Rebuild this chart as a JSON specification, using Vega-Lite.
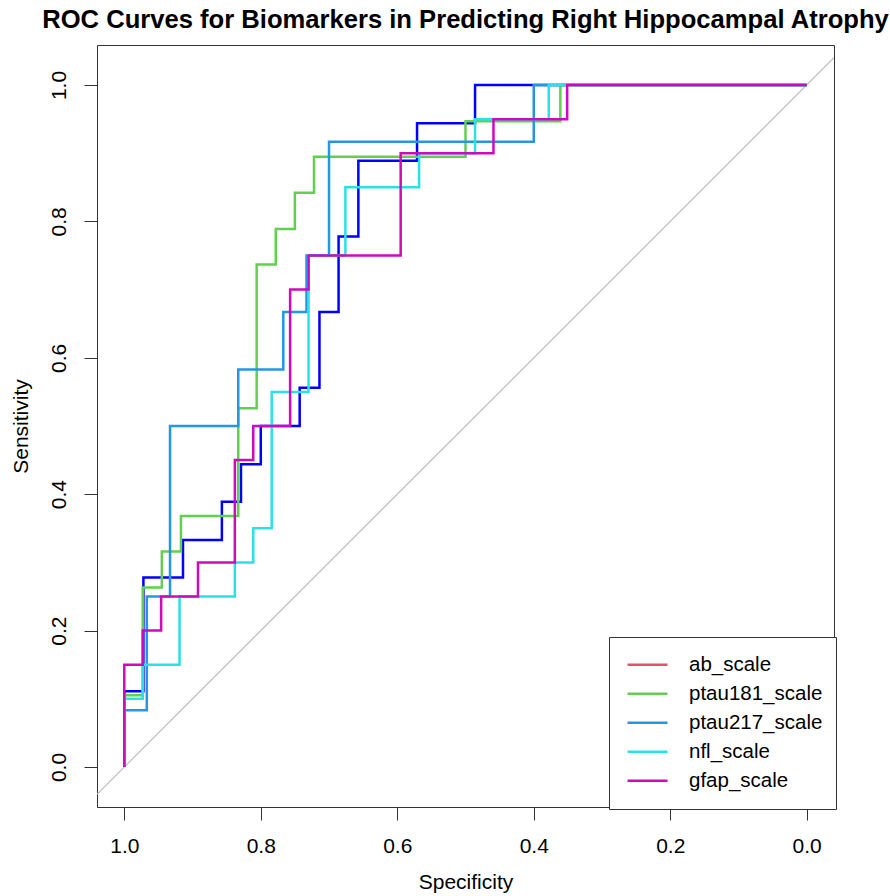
{
  "$schema": "https://vega.github.io/schema/vega-lite/v6.json",
  "autosize": {"type": "none"},
  "width": 737,
  "height": 762,
  "padding": {"left": 97, "top": 45, "right": 56, "bottom": 89},
  "title": {"text": "ROC Curves for Biomarkers in Predicting Right Hippocampal Atrophy", "fontSize": 25.6, "font": "Liberation Sans", "fontWeight": "bold", "anchor": "middle", "offset": 11, "color": "#000"},
  "datasets": {
    "diag": [{"sp": 1.04, "se": -0.04}, {"sp": -0.04, "se": 1.04}],
    "curves": [
      {"k": "ab_scale", "i": 0, "sp": 1, "se": 0},
      {"k": "ab_scale", "i": 1, "sp": 1, "se": 0.111},
      {"k": "ab_scale", "i": 2, "sp": 0.972, "se": 0.111},
      {"k": "ab_scale", "i": 3, "sp": 0.972, "se": 0.278},
      {"k": "ab_scale", "i": 4, "sp": 0.914, "se": 0.278},
      {"k": "ab_scale", "i": 5, "sp": 0.914, "se": 0.333},
      {"k": "ab_scale", "i": 6, "sp": 0.857, "se": 0.333},
      {"k": "ab_scale", "i": 7, "sp": 0.857, "se": 0.389},
      {"k": "ab_scale", "i": 8, "sp": 0.829, "se": 0.389},
      {"k": "ab_scale", "i": 9, "sp": 0.829, "se": 0.444},
      {"k": "ab_scale", "i": 10, "sp": 0.8, "se": 0.444},
      {"k": "ab_scale", "i": 11, "sp": 0.8, "se": 0.5},
      {"k": "ab_scale", "i": 12, "sp": 0.743, "se": 0.5},
      {"k": "ab_scale", "i": 13, "sp": 0.743, "se": 0.556},
      {"k": "ab_scale", "i": 14, "sp": 0.714, "se": 0.556},
      {"k": "ab_scale", "i": 15, "sp": 0.714, "se": 0.667},
      {"k": "ab_scale", "i": 16, "sp": 0.686, "se": 0.667},
      {"k": "ab_scale", "i": 17, "sp": 0.686, "se": 0.778},
      {"k": "ab_scale", "i": 18, "sp": 0.657, "se": 0.778},
      {"k": "ab_scale", "i": 19, "sp": 0.657, "se": 0.889},
      {"k": "ab_scale", "i": 20, "sp": 0.571, "se": 0.889},
      {"k": "ab_scale", "i": 21, "sp": 0.571, "se": 0.944},
      {"k": "ab_scale", "i": 22, "sp": 0.486, "se": 0.944},
      {"k": "ab_scale", "i": 23, "sp": 0.486, "se": 1},
      {"k": "ab_scale", "i": 24, "sp": 0, "se": 1},

      {"k": "ptau181_scale", "i": 0, "sp": 1, "se": 0},
      {"k": "ptau181_scale", "i": 1, "sp": 1, "se": 0.105},
      {"k": "ptau181_scale", "i": 2, "sp": 0.973, "se": 0.105},
      {"k": "ptau181_scale", "i": 3, "sp": 0.973, "se": 0.263},
      {"k": "ptau181_scale", "i": 4, "sp": 0.945, "se": 0.263},
      {"k": "ptau181_scale", "i": 5, "sp": 0.945, "se": 0.316},
      {"k": "ptau181_scale", "i": 6, "sp": 0.917, "se": 0.316},
      {"k": "ptau181_scale", "i": 7, "sp": 0.917, "se": 0.368},
      {"k": "ptau181_scale", "i": 8, "sp": 0.833, "se": 0.368},
      {"k": "ptau181_scale", "i": 9, "sp": 0.833, "se": 0.526},
      {"k": "ptau181_scale", "i": 10, "sp": 0.806, "se": 0.526},
      {"k": "ptau181_scale", "i": 11, "sp": 0.806, "se": 0.737},
      {"k": "ptau181_scale", "i": 12, "sp": 0.778, "se": 0.737},
      {"k": "ptau181_scale", "i": 13, "sp": 0.778, "se": 0.789},
      {"k": "ptau181_scale", "i": 14, "sp": 0.75, "se": 0.789},
      {"k": "ptau181_scale", "i": 15, "sp": 0.75, "se": 0.842},
      {"k": "ptau181_scale", "i": 16, "sp": 0.722, "se": 0.842},
      {"k": "ptau181_scale", "i": 17, "sp": 0.722, "se": 0.895},
      {"k": "ptau181_scale", "i": 18, "sp": 0.5, "se": 0.895},
      {"k": "ptau181_scale", "i": 19, "sp": 0.5, "se": 0.947},
      {"k": "ptau181_scale", "i": 20, "sp": 0.361, "se": 0.947},
      {"k": "ptau181_scale", "i": 21, "sp": 0.361, "se": 1},
      {"k": "ptau181_scale", "i": 22, "sp": 0, "se": 1},

      {"k": "ptau217_scale", "i": 0, "sp": 1, "se": 0},
      {"k": "ptau217_scale", "i": 1, "sp": 1, "se": 0.083},
      {"k": "ptau217_scale", "i": 2, "sp": 0.967, "se": 0.083},
      {"k": "ptau217_scale", "i": 3, "sp": 0.967, "se": 0.25},
      {"k": "ptau217_scale", "i": 4, "sp": 0.933, "se": 0.25},
      {"k": "ptau217_scale", "i": 5, "sp": 0.933, "se": 0.5},
      {"k": "ptau217_scale", "i": 6, "sp": 0.833, "se": 0.5},
      {"k": "ptau217_scale", "i": 7, "sp": 0.833, "se": 0.583},
      {"k": "ptau217_scale", "i": 8, "sp": 0.767, "se": 0.583},
      {"k": "ptau217_scale", "i": 9, "sp": 0.767, "se": 0.667},
      {"k": "ptau217_scale", "i": 10, "sp": 0.733, "se": 0.667},
      {"k": "ptau217_scale", "i": 11, "sp": 0.733, "se": 0.75},
      {"k": "ptau217_scale", "i": 12, "sp": 0.7, "se": 0.75},
      {"k": "ptau217_scale", "i": 13, "sp": 0.7, "se": 0.917},
      {"k": "ptau217_scale", "i": 14, "sp": 0.4, "se": 0.917},
      {"k": "ptau217_scale", "i": 15, "sp": 0.4, "se": 1},
      {"k": "ptau217_scale", "i": 16, "sp": 0, "se": 1},

      {"k": "nfl_scale", "i": 0, "sp": 1, "se": 0},
      {"k": "nfl_scale", "i": 1, "sp": 1, "se": 0.1},
      {"k": "nfl_scale", "i": 2, "sp": 0.973, "se": 0.1},
      {"k": "nfl_scale", "i": 3, "sp": 0.973, "se": 0.15},
      {"k": "nfl_scale", "i": 4, "sp": 0.919, "se": 0.15},
      {"k": "nfl_scale", "i": 5, "sp": 0.919, "se": 0.25},
      {"k": "nfl_scale", "i": 6, "sp": 0.838, "se": 0.25},
      {"k": "nfl_scale", "i": 7, "sp": 0.838, "se": 0.3},
      {"k": "nfl_scale", "i": 8, "sp": 0.811, "se": 0.3},
      {"k": "nfl_scale", "i": 9, "sp": 0.811, "se": 0.35},
      {"k": "nfl_scale", "i": 10, "sp": 0.784, "se": 0.35},
      {"k": "nfl_scale", "i": 11, "sp": 0.784, "se": 0.55},
      {"k": "nfl_scale", "i": 12, "sp": 0.73, "se": 0.55},
      {"k": "nfl_scale", "i": 13, "sp": 0.73, "se": 0.75},
      {"k": "nfl_scale", "i": 14, "sp": 0.676, "se": 0.75},
      {"k": "nfl_scale", "i": 15, "sp": 0.676, "se": 0.85},
      {"k": "nfl_scale", "i": 16, "sp": 0.568, "se": 0.85},
      {"k": "nfl_scale", "i": 17, "sp": 0.568, "se": 0.9},
      {"k": "nfl_scale", "i": 18, "sp": 0.486, "se": 0.9},
      {"k": "nfl_scale", "i": 19, "sp": 0.486, "se": 0.95},
      {"k": "nfl_scale", "i": 20, "sp": 0.378, "se": 0.95},
      {"k": "nfl_scale", "i": 21, "sp": 0.378, "se": 1},
      {"k": "nfl_scale", "i": 22, "sp": 0, "se": 1},

      {"k": "gfap_scale", "i": 0, "sp": 1, "se": 0},
      {"k": "gfap_scale", "i": 1, "sp": 1, "se": 0.15},
      {"k": "gfap_scale", "i": 2, "sp": 0.973, "se": 0.15},
      {"k": "gfap_scale", "i": 3, "sp": 0.973, "se": 0.2},
      {"k": "gfap_scale", "i": 4, "sp": 0.946, "se": 0.2},
      {"k": "gfap_scale", "i": 5, "sp": 0.946, "se": 0.25},
      {"k": "gfap_scale", "i": 6, "sp": 0.892, "se": 0.25},
      {"k": "gfap_scale", "i": 7, "sp": 0.892, "se": 0.3},
      {"k": "gfap_scale", "i": 8, "sp": 0.838, "se": 0.3},
      {"k": "gfap_scale", "i": 9, "sp": 0.838, "se": 0.45},
      {"k": "gfap_scale", "i": 10, "sp": 0.811, "se": 0.45},
      {"k": "gfap_scale", "i": 11, "sp": 0.811, "se": 0.5},
      {"k": "gfap_scale", "i": 12, "sp": 0.757, "se": 0.5},
      {"k": "gfap_scale", "i": 13, "sp": 0.757, "se": 0.7},
      {"k": "gfap_scale", "i": 14, "sp": 0.73, "se": 0.7},
      {"k": "gfap_scale", "i": 15, "sp": 0.73, "se": 0.75},
      {"k": "gfap_scale", "i": 16, "sp": 0.595, "se": 0.75},
      {"k": "gfap_scale", "i": 17, "sp": 0.595, "se": 0.9},
      {"k": "gfap_scale", "i": 18, "sp": 0.459, "se": 0.9},
      {"k": "gfap_scale", "i": 19, "sp": 0.459, "se": 0.95},
      {"k": "gfap_scale", "i": 20, "sp": 0.351, "se": 0.95},
      {"k": "gfap_scale", "i": 21, "sp": 0.351, "se": 1},
      {"k": "gfap_scale", "i": 22, "sp": 0, "se": 1}
    ]
  },
  "layer": [
    {
      "data": {"name": "diag"},
      "mark": {"type": "line", "color": "#BEBEBE", "strokeWidth": 1.2, "clip": true},
      "encoding": {
        "x": {"field": "sp", "type": "quantitative", "scale": {"domain": [-0.04, 1.04], "reverse": true, "nice": false, "zero": false},
              "axis": {"values": [1, 0.8, 0.6, 0.4, 0.2, 0], "format": ".1f", "title": "Specificity", "labelPadding": 15, "titlePadding": 15}},
        "y": {"field": "se", "type": "quantitative", "scale": {"domain": [-0.0587, 1.0587], "nice": false, "zero": false},
              "axis": {"values": [0, 0.2, 0.4, 0.6, 0.8, 1], "format": ".1f", "title": "Sensitivity", "labelAngle": 270, "labelPadding": 15, "titlePadding": 17}}
      }
    },
    {
      "data": {"name": "curves"},
      "transform": [{"filter": "datum.k === 'ab_scale'"}],
      "mark": {"type": "line", "color": "#0000FF", "strokeWidth": 2.5, "clip": true},
      "encoding": {
        "x": {"field": "sp", "type": "quantitative"},
        "y": {"field": "se", "type": "quantitative"},
        "order": {"field": "i", "type": "quantitative"}
      }
    },
    {
      "data": {"name": "curves"},
      "transform": [{"filter": "datum.k !== 'ab_scale'"}],
      "mark": {"type": "line", "strokeWidth": 2.5, "clip": true},
      "encoding": {
        "x": {"field": "sp", "type": "quantitative"},
        "y": {"field": "se", "type": "quantitative"},
        "order": {"field": "i", "type": "quantitative"},
        "color": {"field": "k", "type": "nominal",
                  "scale": {"domain": ["ab_scale", "ptau181_scale", "ptau217_scale", "nfl_scale", "gfap_scale"],
                            "range": ["#DF536B", "#61D04F", "#2297E6", "#28E2E5", "#CD0BBC"]},
                  "legend": {"title": null, "orient": "none", "legendX": 512, "legendY": 592}}
      }
    }
  ],
  "config": {
    "font": "Liberation Sans",
    "view": {"stroke": "#333", "strokeWidth": 1},
    "axis": {"grid": false, "domain": false, "tickColor": "#333", "tickSize": 13, "tickWidth": 1,
             "labelFont": "Liberation Sans", "labelFontSize": 21, "labelColor": "#000",
             "titleFont": "Liberation Sans", "titleFontSize": 21, "titleFontWeight": "normal", "titleColor": "#000"},
    "legend": {"symbolType": "M-2,0H2", "symbolSize": 400, "symbolStrokeWidth": 2.5,
               "labelFont": "Liberation Sans", "labelFontSize": 20.5, "labelColor": "#000",
               "padding": 13.5, "strokeColor": "#333", "fillColor": "white", "rowPadding": 0, "clipHeight": 28.5,
               "symbolOffset": 13.5, "labelOffset": 30}
  }
}
